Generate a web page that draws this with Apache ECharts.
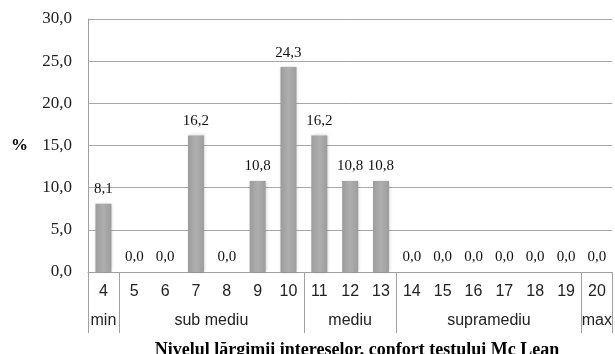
<!DOCTYPE html>
<html><head><meta charset="utf-8">
<script src="https://cdn.jsdelivr.net/npm/echarts@6/dist/echarts.min.js"></script>
<style>html,body{margin:0;padding:0;background:#fff}#c{width:615px;height:354px}</style>
</head><body><div id="c"></div>
<script>
const categories = ['4','5','6','7','8','9','10','11','12','13','14','15','16','17','18','19','20'];
const values = [8.1,0,0,16.2,0,10.8,24.3,16.2,10.8,10.8,0,0,0,0,0,0,0];
const groupNames = ['min','sub mediu','mediu','supramediu','max'];
const groupRanges = [[4,4],[5,10],[11,13],[14,19],[20,20]];
const yTicks = [0,5,10,15,20,25,30];
const titleText = 'Nivelul lărgimii intereselor, confort testului Mc Lean';

const fmt = v => Number(v).toFixed(1).replace('.', ',');
const groupCenters = groupRanges.map(r => (r[0] + r[1]) / 2);
const groupBounds = [groupRanges[0][0] - 0.5].concat(groupRanges.map(r => r[1] + 0.5));
const first = Number(categories[0]), last = Number(categories[categories.length - 1]);

const chart = echarts.init(document.getElementById('c'));
chart.setOption({
  animation: false,
  title: {
    text: titleText, left: 352, top: 336, textAlign: 'center',
    textStyle: {fontFamily: 'Liberation Serif', fontWeight: 'bold', fontSize: 18, color: '#000'}
  },
  grid: {left: 88, top: 19, width: 531, height: 253},
  xAxis: [{
    type: 'category', data: categories,
    axisLine: {show: true, lineStyle: {color: '#a0a0a0'}},
    axisTick: {show: false},
    axisLabel: {fontFamily: 'Liberation Sans', fontSize: 16, color: '#222', margin: 12}
  }, {
    type: 'value', min: first - 0.5, max: last + 0.5, position: 'bottom', offset: 61,
    axisLine: {show: false},
    splitLine: {show: false},
    axisTick: {show: true, inside: true, length: 61, customValues: groupBounds, lineStyle: {color: '#a0a0a0'}},
    axisLabel: {inside: true, margin: 4, customValues: groupCenters,
      fontFamily: 'Liberation Sans', fontSize: 16, color: '#222',
      formatter: v => groupNames[groupCenters.indexOf(v)] || ''}
  }],
  yAxis: {
    type: 'value', min: yTicks[0], max: yTicks[yTicks.length - 1], interval: 5,
    name: '%', nameLocation: 'middle', nameGap: 60, nameRotate: 0,
    nameTextStyle: {fontFamily: 'Liberation Serif', fontWeight: 'bold', fontSize: 17, color: '#000'},
    axisLine: {show: true, lineStyle: {color: '#a0a0a0'}},
    axisTick: {show: false},
    splitLine: {lineStyle: {color: '#a8a8a8'}},
    axisLabel: {fontFamily: 'Liberation Serif', fontSize: 17, color: '#222', margin: 16, formatter: fmt}
  },
  series: [{
    type: 'bar', data: values, barWidth: 16, xAxisIndex: 0,
    itemStyle: {
      color: new echarts.graphic.LinearGradient(0, 0, 1, 0, [
        {offset: 0, color: '#9c9c9c'}, {offset: 0.5, color: '#afafaf'}, {offset: 1, color: '#9c9c9c'}
      ]),
      shadowBlur: 3, shadowColor: 'rgba(0,0,0,0.2)', shadowOffsetX: 1, shadowOffsetY: 0
    },
    label: {show: true, position: 'top', distance: 7, formatter: p => fmt(p.value),
      fontFamily: 'Liberation Serif', fontSize: 15, color: '#111'}
  }]
});
</script></body></html>
